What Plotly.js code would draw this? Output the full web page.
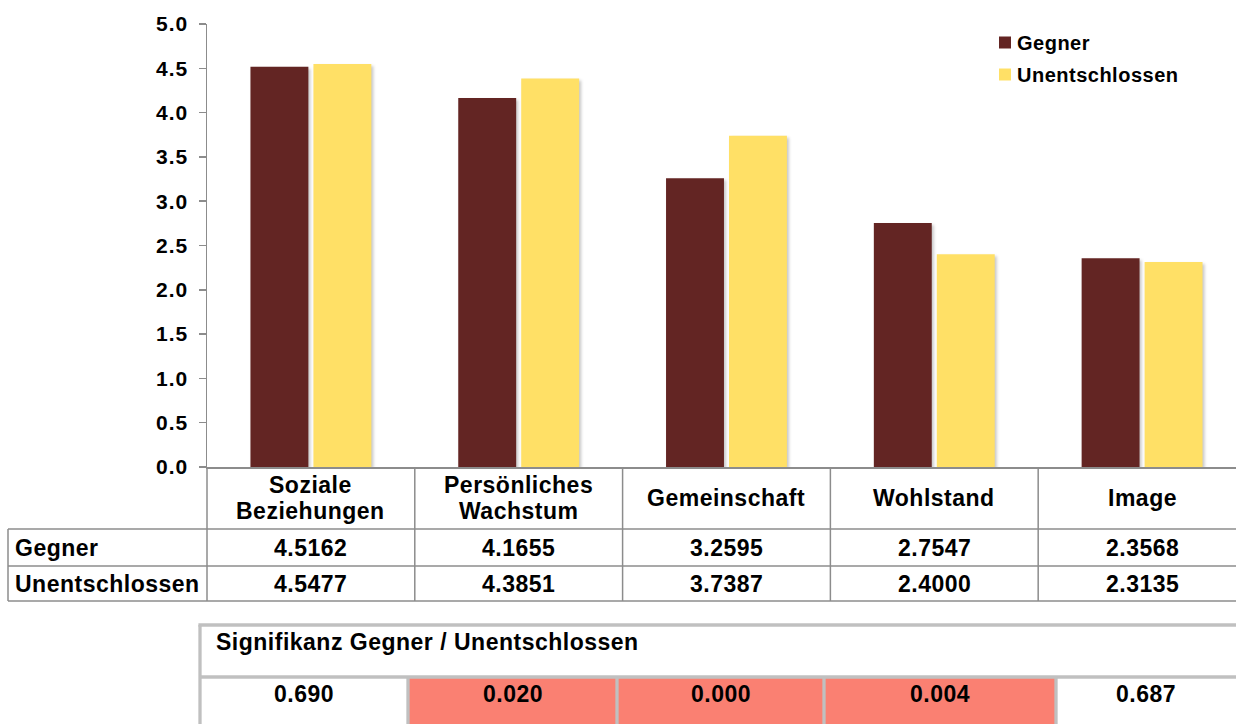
<!DOCTYPE html>
<html>
<head>
<meta charset="utf-8">
<script src="https://cdn.plot.ly/plotly-3.0.1.min.js"></script>
<style>
  html, body { margin: 0; padding: 0; background: #fff; }
  #chart { width: 1236px; height: 724px; }
  .trace.bars .point path { filter: drop-shadow(2px 2px 1.5px rgba(0,0,0,0.22)); }
  .annotation-text { letter-spacing: 0.5px; }
  .ytick text { letter-spacing: 1px; }
  .legendtext { letter-spacing: 0.5px; }
  .legend .legendpoints { transform: translate(8px, 0px); }
</style>
</head>
<body>
<div id="chart"></div>
<script>
// ---- data ----
const categories = ['Soziale<br>Beziehungen', 'Persönliches<br>Wachstum', 'Gemeinschaft', 'Wohlstand', 'Image'];
const seriesNames = ['Gegner', 'Unentschlossen'];
const gegner = [4.5162, 4.1655, 3.2595, 2.7547, 2.3568];
const unentschlossen = [4.5477, 4.3851, 3.7387, 2.4000, 2.3135];
const sigTitle = 'Signifikanz Gegner / Unentschlossen';
const significance = [0.690, 0.020, 0.000, 0.004, 0.687];
const sigThreshold = 0.05;

// ---- styles / geometry ----
const colors = ['#632523', '#FFE066'];
const FONT = '"Liberation Sans", Arial, sans-serif';
const L = 207, T = 24, W = 1236 - 207, H = 443;
const xr = [-0.5, 4.452];
const px = x => (x - L) / W;
const py = y => (T + H - y) / H;
const catX = k => L + (k - xr[0]) / (xr[1] - xr[0]) * W;

const tableLine = { color: '#8C8C8C', width: 1.5 };
const sigLine = { color: '#C0C0C0', width: 3.3 };
const rowY = [548, 584];           // centres of data rows
const rowLines = [529, 566, 601];
const headerY = 498, headerLineGap = 25;
const sigCols = [200, 408, 617, 824, 1056, 1236];
const sigTop = 625, sigSep = 677, sigBottom = 724;
const TS = 23;

const shapes = [];
const annotations = [];
function hline(y, x0, x1, line) {
  shapes.push({ type: 'line', xref: 'paper', yref: 'paper', x0: px(x0), x1: px(x1), y0: py(y), y1: py(y), line });
}
function vline(x, y0, y1, line) {
  shapes.push({ type: 'line', xref: 'paper', yref: 'paper', x0: px(x), x1: px(x), y0: py(y0), y1: py(y1), line });
}
function text(t, x, y, anchor, size) {
  annotations.push({ text: t, xref: 'paper', yref: 'paper', x: px(x), y: py(y), xanchor: anchor, yanchor: 'middle',
    showarrow: false, font: { family: FONT, size: size, color: '#000', weight: 'bold' } });
}

// data table
for (let k = 0; k < categories.length; k++) vline(catX(k - 0.5), T + H, rowLines[2], tableLine);
vline(8, rowLines[0], rowLines[2], tableLine);
rowLines.forEach(y => hline(y, 8, 1236, tableLine));
categories.forEach((c, k) => {
  const lines = c.split('<br>');
  lines.forEach((ln, j) => {
    const y = headerY + (j - (lines.length - 1) / 2) * headerLineGap;
    text(ln, catX(k), y, 'center', TS);
  });
  text(gegner[k].toFixed(4), catX(k), rowY[0], 'center', TS);
  text(unentschlossen[k].toFixed(4), catX(k), rowY[1], 'center', TS);
});
text(seriesNames[0], 13, rowY[0], 'left', TS);
text(seriesNames[1], 13, rowY[1], 'left', TS);

// significance table
significance.forEach((v, i) => {
  if (v < sigThreshold) {
    shapes.push({ type: 'rect', xref: 'paper', yref: 'paper', x0: px(sigCols[i]), x1: px(sigCols[i + 1]),
      y0: py(sigBottom), y1: py(sigSep), fillcolor: '#FA8072', line: { width: 0 }, layer: 'below' });
  }
  text(v.toFixed(3), (sigCols[i] + sigCols[i + 1]) / 2, 694, 'center', TS);
});
hline(sigTop, sigCols[0] - 1.6, 1236, sigLine);
hline(sigSep, sigCols[0], 1236, sigLine);
vline(sigCols[0], sigTop, sigBottom, sigLine);
for (let i = 1; i < sigCols.length - 1; i++) vline(sigCols[i], sigSep, sigBottom, sigLine);
text(sigTitle, 214, 642, 'left', TS);

const traces = [gegner, unentschlossen].map((vals, i) => ({
  type: 'bar',
  name: seriesNames[i],
  legendgroup: 'g' + i,
  x: categories,
  y: vals,
  marker: { color: colors[i], line: { width: 0 } },
  hoverinfo: 'skip'
}));

const layout = {
  width: 1236, height: 724,
  margin: { l: L, r: 0, t: T, b: 724 - T - H, pad: 0 },
  paper_bgcolor: '#fff', plot_bgcolor: '#fff',
  font: { family: FONT, color: '#000' },
  barmode: 'group',
  bargap: 0.394,
  bargroupgap: 0.08,
  showlegend: true,
  legend: {
    x: px(977), y: py(23), xanchor: 'left', yanchor: 'top',
    font: { family: FONT, size: 20, color: '#000', weight: 'bold' },
    bgcolor: 'rgba(0,0,0,0)', borderwidth: 0,
    tracegroupgap: 3, traceorder: 'grouped', itemclick: false
  },
  xaxis: {
    type: 'category', range: xr, showticklabels: false, ticks: '',
    showline: true, linecolor: '#8C8C8C', linewidth: 1.5, showgrid: false, zeroline: false, fixedrange: true
  },
  yaxis: {
    range: [0, 5], dtick: 0.5, tick0: 0, tickformat: '.1f',
    ticks: 'outside', ticklen: 7, tickwidth: 1.5, tickcolor: '#8C8C8C',
    showline: true, linecolor: '#8C8C8C', linewidth: 1.5, showgrid: false, zeroline: false,
    ticklabelstandoff: 6,
    tickfont: { family: FONT, size: 21, color: '#000', weight: 'bold' }, fixedrange: true
  },
  shapes, annotations
};

Plotly.newPlot('chart', traces, layout, { displayModeBar: false, staticPlot: true });
</script>
</body>
</html>
